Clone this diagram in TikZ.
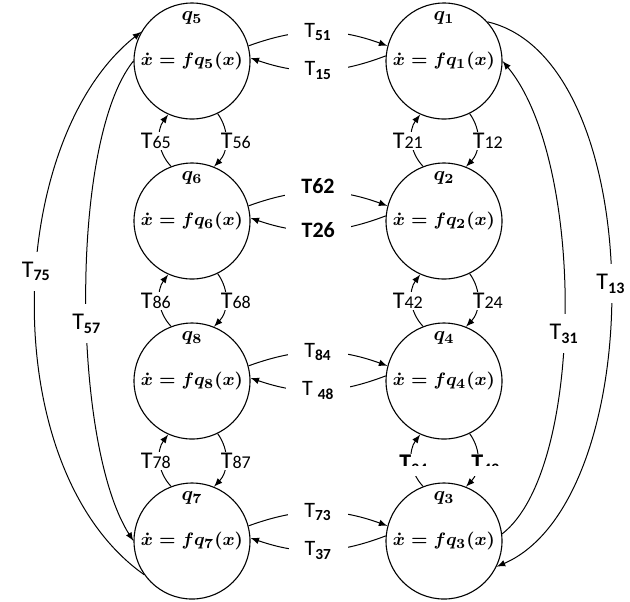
\documentclass[tikz,border=0pt]{standalone}
\usepackage{amsmath,amssymb}
\usepackage{fontspec}
\setmainfont{Carlito}
\usetikzlibrary{arrows, positioning}

\begin{document}
\begin{tikzpicture}[x=0.5pt, y=-0.5pt, >=latex, node distance=80pt and 126pt, on grid]
    % Styles
    \tikzstyle{mode} = [circle, draw, line width=0.55pt, minimum size=58pt, inner sep=0pt, font=\fontsize{9.5}{11}\selectfont\boldmath]
    \tikzstyle{qname} = [font=\boldmath, yshift=21.5pt]
    \tikzstyle{line} = [draw, ->, line width=0.5pt]
    \tikzstyle{tag} = [fill=white, inner xsep=8pt, inner ysep=1pt, font=\fontsize{11}{12}\selectfont]
    \tikzstyle{vtag} = [fill=white, inner sep=0.5pt, font=\fontsize{12}{13}\selectfont]
    \tikzstyle{otag} = [fill=white, inner xsep=1pt, inner ysep=5pt, font=\fontsize{12}{13}\selectfont]

    \useasboundingbox (0,0) rectangle (630,601);

    % Nodes
    \node [mode, label={[qname]center:$q_5$}] (q5) at (192,61) {$\dot x = f q_5(x)$};
    \node [mode, label={[qname]center:$q_6$}, below=of q5] (q6) {$\dot x = f q_6(x)$};
    \node [mode, label={[qname]center:$q_8$}, below=of q6] (q8) {$\dot x = f q_8(x)$};
    \node [mode, label={[qname]center:$q_7$}, below=of q8] (q7) {$\dot x = f q_7(x)$};
    \node [mode, label={[qname]center:$q_1$}, right=of q5] (q1) {$\dot x = f q_1(x)$};
    \node [mode, label={[qname]center:$q_2$}, right=of q6] (q2) {$\dot x = f q_2(x)$};
    \node [mode, label={[qname]center:$q_4$}, right=of q8] (q4) {$\dot x = f q_4(x)$};
    \node [mode, label={[qname]center:$q_3$}, right=of q7] (q3) {$\dot x = f q_3(x)$};

    % Paths between the columns
    \path [line] (q5.15) to[bend left=20] node[tag] {T\textsubscript{\textbf{51}}} (q1.165);
    \path [line] (q1.175) to[bend left=20] node[tag] {T\textsubscript{\textbf{15}}} (q5.3);
    \path [line] (q6.15) to[bend left=20] node[tag, yshift=3pt] {\textbf{T62}} (q2.165);
    \path [line] (q2.175) to[bend left=20] node[tag] {\textbf{T26}} (q6.3);
    \path [line] (q8.15) to[bend left=20] node[tag] {T\textsubscript{\textbf{84}}} (q4.165);
    \path [line] (q4.175) to[bend left=20] node[tag] {T\ \textsubscript{\textbf{48}}} (q8.3);
    \path [line] (q7.15) to[bend left=20] node[tag] {T\textsubscript{\textbf{73}}} (q3.165);
    \path [line] (q3.175) to[bend left=20] node[tag] {T\textsubscript{\textbf{37}}} (q7.3);

    % Paths within the columns
    \path [line] (q6.111) to[bend left=40] node[vtag, xshift=-2pt] {T{\small 65}} (q5.246);
    \path [line] (q5.-64) to[bend left=40] node[vtag, xshift=5pt] {T{\small 56}} (q6.68);
    \path [line] (q8.111) to[bend left=40] node[vtag, xshift=-2pt] {T{\small 86}} (q6.246);
    \path [line] (q6.-64) to[bend left=40] node[vtag, xshift=5pt] {T{\small 68}} (q8.68);
    \path [line] (q7.111) to[bend left=40] node[vtag, xshift=-2pt] {T{\small 78}} (q8.246);
    \path [line] (q8.-64) to[bend left=40] node[vtag, xshift=5pt] {T{\small 87}} (q7.68);
    \path [line] (q2.111) to[bend left=40] node[vtag, xshift=-2pt] {T{\small 21}} (q1.246);
    \path [line] (q1.-64) to[bend left=40] node[vtag, xshift=5pt] {T{\small 12}} (q2.68);
    \path [line] (q4.111) to[bend left=40] node[vtag, xshift=-2pt] {T{\small 42}} (q2.246);
    \path [line] (q2.-64) to[bend left=40] node[vtag, xshift=5pt] {T{\small 24}} (q4.68);
    \path [line] (q3.111) to[bend left=40] node[vtag, xshift=1pt, yshift=-2pt] (t34) {\textbf{T}\textsubscript{\textbf{34}}} (q4.246);
    \path [line] (q4.-64) to[bend left=40] node[vtag, xshift=4pt, yshift=-2pt] (t43) {\textbf{T}\textsubscript{\textbf{43}}} (q3.68);

    % cut-off labels
    \coordinate (cut) at (0,466);
    \fill [white] (t34.west |- cut) rectangle (t34.south east);
    \fill [white] (t43.west |- cut) rectangle (t43.south east);

    % Outer paths
    \path [line] (q7.215) .. controls +(-150,-106) and +(-137,108) .. node[otag, pos=0.55] {T\textsubscript{\textbf{75}}} (q5.150);
    \path [line] (q5.180) .. controls +(-64,79) and +(-62,-97) .. node[otag, pos=0.55] {T\textsubscript{\textbf{57}}} (q7.180);
    \path [line] (q1.42) .. controls +(163,38) and +(154,-66) .. node[otag, pos=0.5] {T\textsubscript{\textbf{13}}} (q3.-26);
    \path [line] (q3.7) .. controls +(83,-64) and +(83,99) .. node[otag, pos=0.46] {T\textsubscript{\textbf{31}}} (q1.0);
\end{tikzpicture}
\end{document}
